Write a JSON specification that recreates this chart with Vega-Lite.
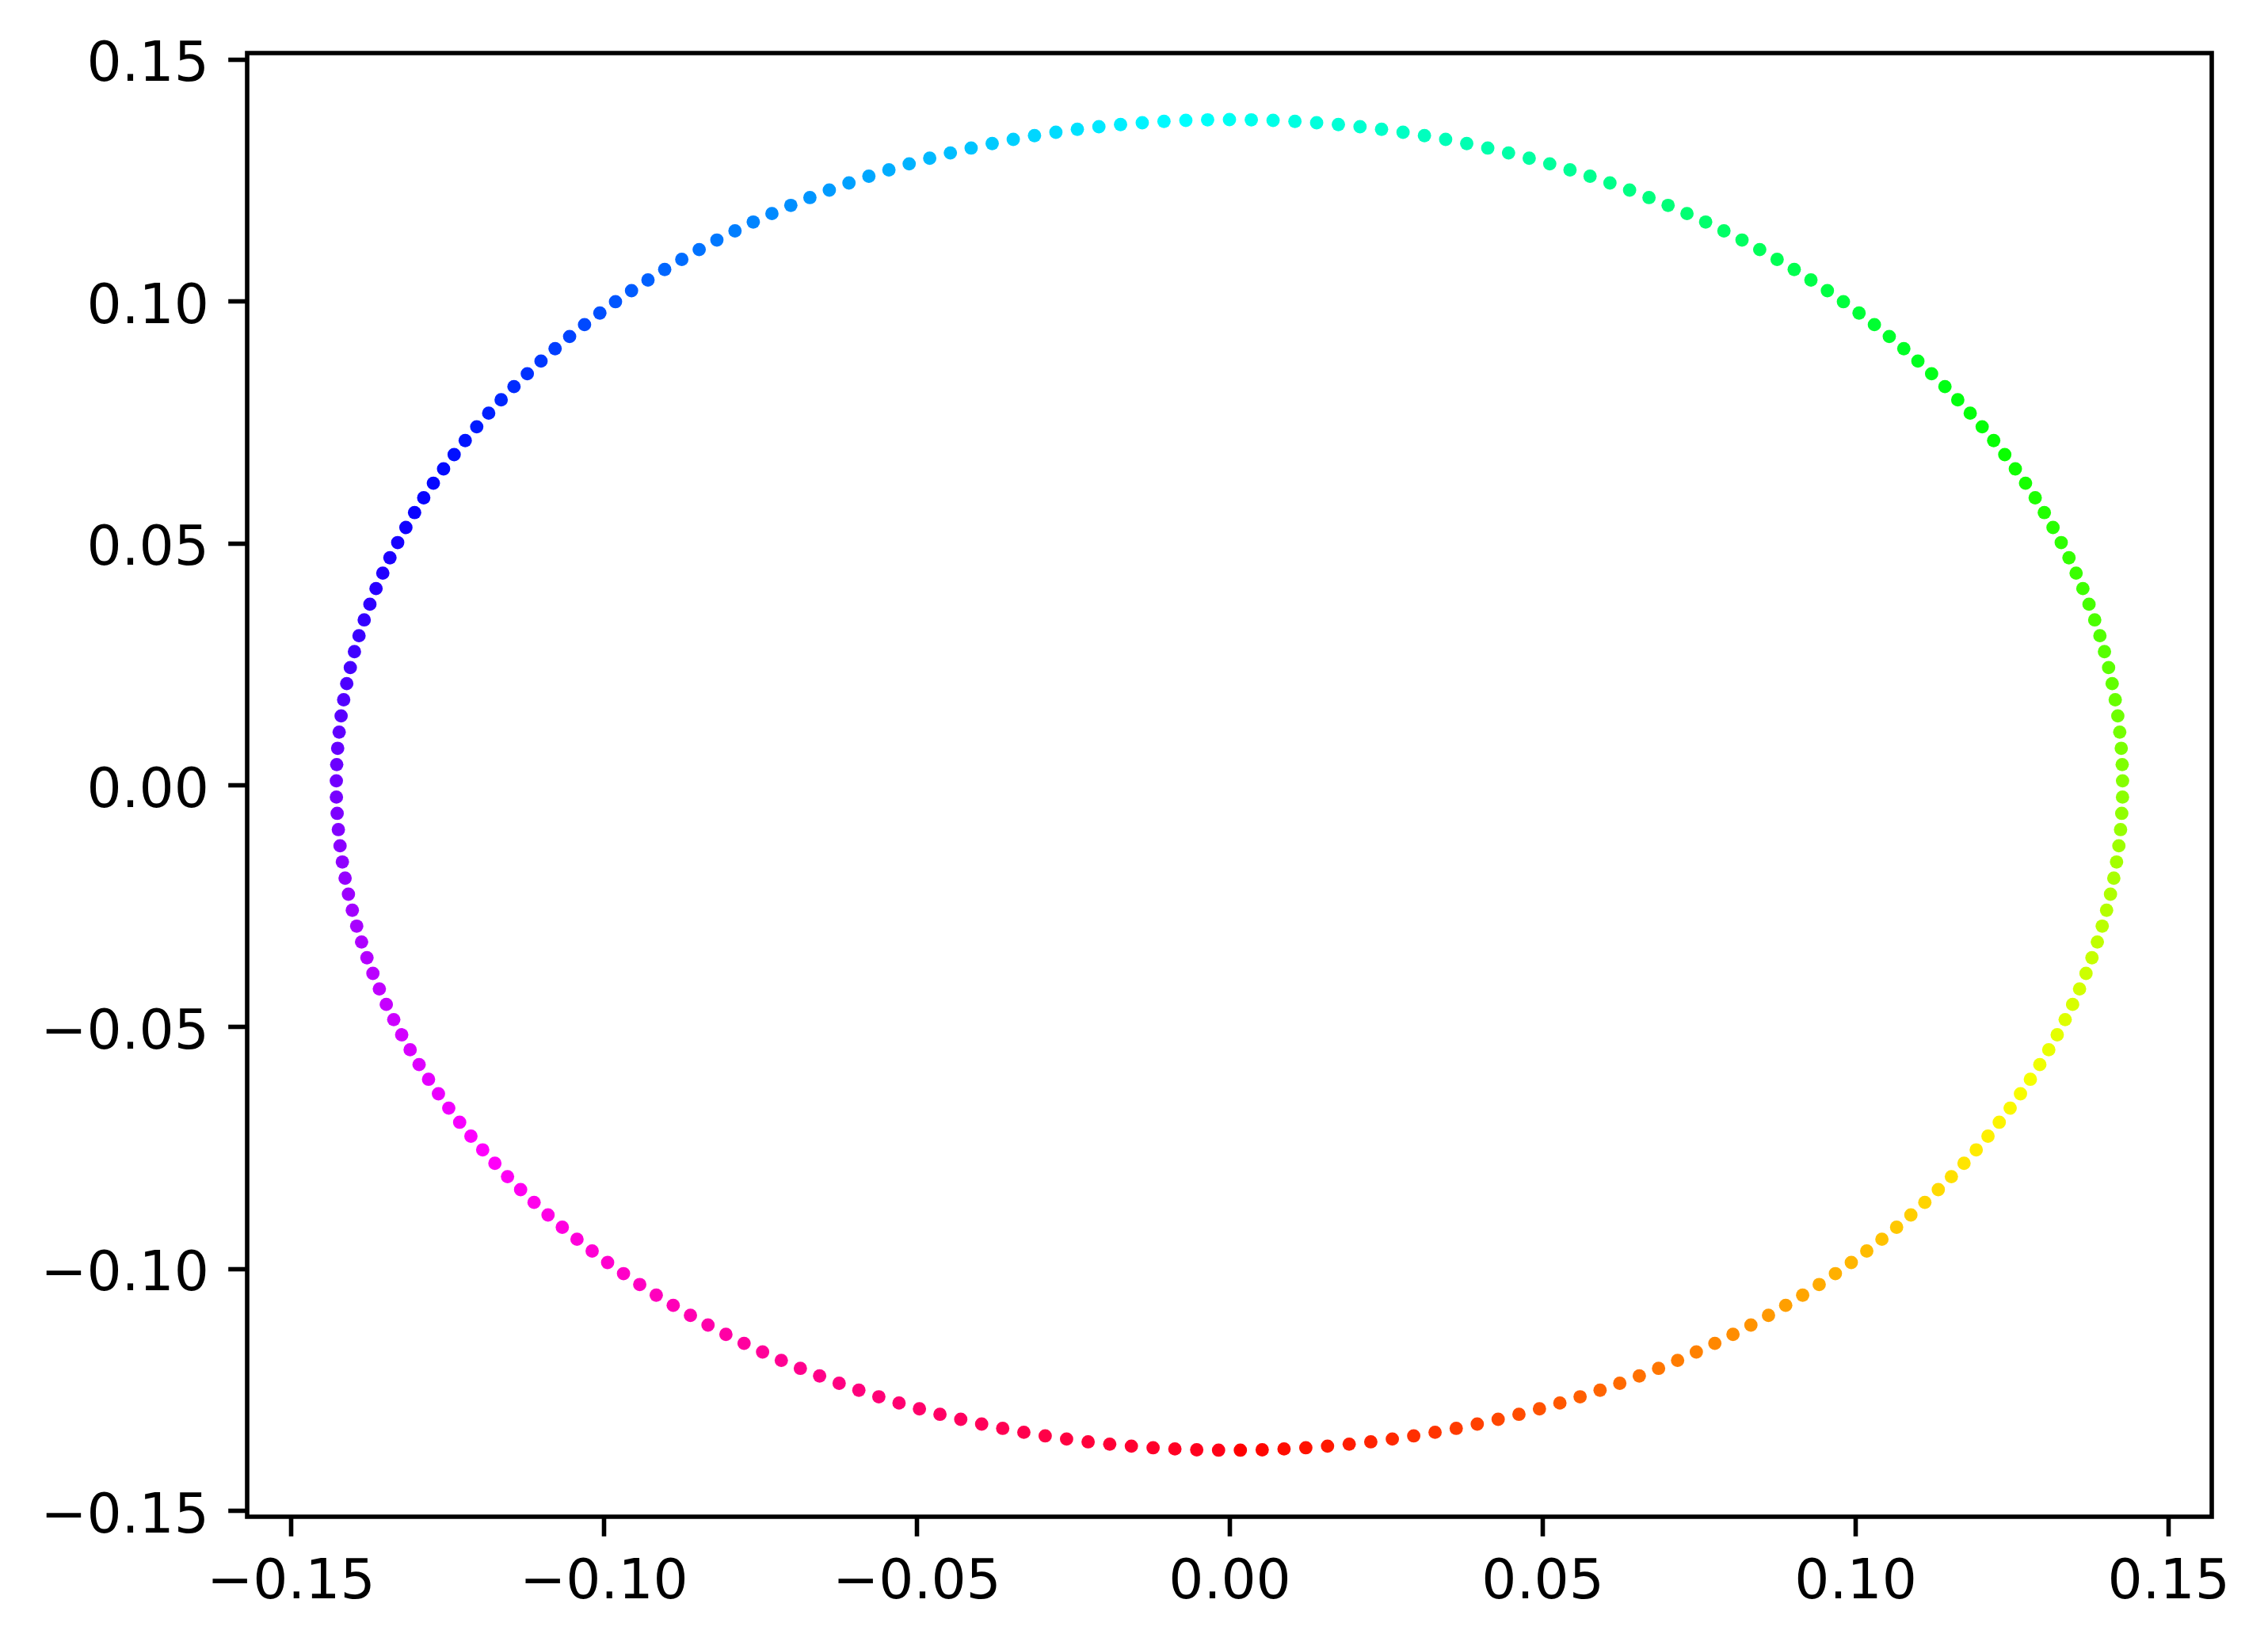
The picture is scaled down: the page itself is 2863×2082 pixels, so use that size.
{
"$schema": "https://vega.github.io/schema/vega-lite/v6.json",
"width": 2480,
"height": 1848,
"autosize": {"type": "none"},
"padding": {"left": 312, "top": 67, "right": 71, "bottom": 167},
"background": "white",
"config": {
  "view": {"stroke": "black", "strokeWidth": 5.6},
  "axis": {"domain": false, "grid": false, "ticks": true, "tickColor": "black", "tickWidth": 5.6, "tickSize": 24.3, "labelFont": "DejaVu Sans", "labelFontSize": 69.4, "labelColor": "black", "labelFlush": false, "labelOverlap": false, "labelLimit": 0, "title": null}
},
"data": {"values": [
{"i":0,"x":0.00174,"y":-0.13749},{"i":1,"x":0.00523,"y":-0.13741},{"i":2,"x":0.00872,"y":-0.13724},{"i":3,"x":0.01220,"y":-0.13700},{"i":4,"x":0.01567,"y":-0.13666},{"i":5,"x":0.01913,"y":-0.13625},{"i":6,"x":0.02258,"y":-0.13577},{"i":7,"x":0.02602,"y":-0.13519},{"i":8,"x":0.02944,"y":-0.13454},{"i":9,"x":0.03285,"y":-0.13380},
{"i":10,"x":0.03623,"y":-0.13299},{"i":11,"x":0.03959,"y":-0.13210},{"i":12,"x":0.04293,"y":-0.13112},{"i":13,"x":0.04625,"y":-0.13008},{"i":14,"x":0.04953,"y":-0.12895},{"i":15,"x":0.05279,"y":-0.12774},{"i":16,"x":0.05602,"y":-0.12646},{"i":17,"x":0.05921,"y":-0.12510},{"i":18,"x":0.06236,"y":-0.12367},{"i":19,"x":0.06548,"y":-0.12216},
{"i":20,"x":0.06856,"y":-0.12059},{"i":21,"x":0.07160,"y":-0.11894},{"i":22,"x":0.07459,"y":-0.11721},{"i":23,"x":0.07755,"y":-0.11542},{"i":24,"x":0.08045,"y":-0.11356},{"i":25,"x":0.08331,"y":-0.11163},{"i":26,"x":0.08612,"y":-0.10964},{"i":27,"x":0.08887,"y":-0.10757},{"i":28,"x":0.09158,"y":-0.10545},{"i":29,"x":0.09422,"y":-0.10326},
{"i":30,"x":0.09681,"y":-0.10101},{"i":31,"x":0.09935,"y":-0.09870},{"i":32,"x":0.10182,"y":-0.09633},{"i":33,"x":0.10424,"y":-0.09390},{"i":34,"x":0.10659,"y":-0.09142},{"i":35,"x":0.10887,"y":-0.08888},{"i":36,"x":0.11110,"y":-0.08629},{"i":37,"x":0.11325,"y":-0.08365},{"i":38,"x":0.11534,"y":-0.08096},{"i":39,"x":0.11736,"y":-0.07821},
{"i":40,"x":0.11931,"y":-0.07543},{"i":41,"x":0.12119,"y":-0.07259},{"i":42,"x":0.12299,"y":-0.06972},{"i":43,"x":0.12473,"y":-0.06680},{"i":44,"x":0.12638,"y":-0.06384},{"i":45,"x":0.12796,"y":-0.06084},{"i":46,"x":0.12947,"y":-0.05781},{"i":47,"x":0.13090,"y":-0.05474},{"i":48,"x":0.13225,"y":-0.05165},{"i":49,"x":0.13352,"y":-0.04851},
{"i":50,"x":0.13471,"y":-0.04536},{"i":51,"x":0.13582,"y":-0.04217},{"i":52,"x":0.13685,"y":-0.03896},{"i":53,"x":0.13780,"y":-0.03572},{"i":54,"x":0.13866,"y":-0.03247},{"i":55,"x":0.13944,"y":-0.02919},{"i":56,"x":0.14014,"y":-0.02590},{"i":57,"x":0.14076,"y":-0.02259},{"i":58,"x":0.14129,"y":-0.01927},{"i":59,"x":0.14173,"y":-0.01593},
{"i":60,"x":0.14210,"y":-0.01259},{"i":61,"x":0.14237,"y":-0.00924},{"i":62,"x":0.14256,"y":-0.00588},{"i":63,"x":0.14268,"y":-0.00252},{"i":64,"x":0.14269,"y":0.00084},{"i":65,"x":0.14263,"y":0.00420},{"i":66,"x":0.14248,"y":0.00756},{"i":67,"x":0.14224,"y":0.01091},{"i":68,"x":0.14193,"y":0.01426},{"i":69,"x":0.14152,"y":0.01760},
{"i":70,"x":0.14103,"y":0.02093},{"i":71,"x":0.14046,"y":0.02424},{"i":72,"x":0.13980,"y":0.02754},{"i":73,"x":0.13907,"y":0.03083},{"i":74,"x":0.13824,"y":0.03410},{"i":75,"x":0.13733,"y":0.03734},{"i":76,"x":0.13635,"y":0.04057},{"i":77,"x":0.13527,"y":0.04377},{"i":78,"x":0.13413,"y":0.04694},{"i":79,"x":0.13289,"y":0.05008},
{"i":80,"x":0.13158,"y":0.05320},{"i":81,"x":0.13019,"y":0.05628},{"i":82,"x":0.12873,"y":0.05933},{"i":83,"x":0.12719,"y":0.06235},{"i":84,"x":0.12556,"y":0.06532},{"i":85,"x":0.12387,"y":0.06826},{"i":86,"x":0.12210,"y":0.07116},{"i":87,"x":0.12026,"y":0.07401},{"i":88,"x":0.11835,"y":0.07683},{"i":89,"x":0.11636,"y":0.07959},
{"i":90,"x":0.11431,"y":0.08231},{"i":91,"x":0.11218,"y":0.08497},{"i":92,"x":0.10999,"y":0.08759},{"i":93,"x":0.10774,"y":0.09016},{"i":94,"x":0.10542,"y":0.09267},{"i":95,"x":0.10304,"y":0.09512},{"i":96,"x":0.10059,"y":0.09752},{"i":97,"x":0.09809,"y":0.09986},{"i":98,"x":0.09553,"y":0.10214},{"i":99,"x":0.09290,"y":0.10436},
{"i":100,"x":0.09023,"y":0.10652},{"i":101,"x":0.08750,"y":0.10861},{"i":102,"x":0.08472,"y":0.11064},{"i":103,"x":0.08189,"y":0.11261},{"i":104,"x":0.07900,"y":0.11450},{"i":105,"x":0.07608,"y":0.11633},{"i":106,"x":0.07310,"y":0.11808},{"i":107,"x":0.07008,"y":0.11977},{"i":108,"x":0.06703,"y":0.12139},{"i":109,"x":0.06393,"y":0.12293},
{"i":110,"x":0.06079,"y":0.12440},{"i":111,"x":0.05761,"y":0.12579},{"i":112,"x":0.05441,"y":0.12711},{"i":113,"x":0.05117,"y":0.12836},{"i":114,"x":0.04789,"y":0.12952},{"i":115,"x":0.04459,"y":0.13061},{"i":116,"x":0.04127,"y":0.13162},{"i":117,"x":0.03791,"y":0.13255},{"i":118,"x":0.03454,"y":0.13341},{"i":119,"x":0.03115,"y":0.13418},
{"i":120,"x":0.02773,"y":0.13488},{"i":121,"x":0.02430,"y":0.13549},{"i":122,"x":0.02086,"y":0.13602},{"i":123,"x":0.01740,"y":0.13647},{"i":124,"x":0.01393,"y":0.13684},{"i":125,"x":0.01046,"y":0.13713},{"i":126,"x":0.00697,"y":0.13733},{"i":127,"x":0.00349,"y":0.13745},{"i":128,"x":0.0,"y":0.13750},{"i":129,"x":-0.00349,"y":0.13745},
{"i":130,"x":-0.00697,"y":0.13733},{"i":131,"x":-0.01046,"y":0.13713},{"i":132,"x":-0.01393,"y":0.13684},{"i":133,"x":-0.01740,"y":0.13647},{"i":134,"x":-0.02086,"y":0.13602},{"i":135,"x":-0.02430,"y":0.13549},{"i":136,"x":-0.02773,"y":0.13488},{"i":137,"x":-0.03115,"y":0.13418},{"i":138,"x":-0.03454,"y":0.13341},{"i":139,"x":-0.03791,"y":0.13255},
{"i":140,"x":-0.04127,"y":0.13162},{"i":141,"x":-0.04459,"y":0.13061},{"i":142,"x":-0.04789,"y":0.12952},{"i":143,"x":-0.05117,"y":0.12836},{"i":144,"x":-0.05441,"y":0.12711},{"i":145,"x":-0.05761,"y":0.12579},{"i":146,"x":-0.06079,"y":0.12440},{"i":147,"x":-0.06393,"y":0.12293},{"i":148,"x":-0.06703,"y":0.12139},{"i":149,"x":-0.07008,"y":0.11977},
{"i":150,"x":-0.07310,"y":0.11808},{"i":151,"x":-0.07608,"y":0.11633},{"i":152,"x":-0.07900,"y":0.11450},{"i":153,"x":-0.08189,"y":0.11261},{"i":154,"x":-0.08472,"y":0.11064},{"i":155,"x":-0.08750,"y":0.10861},{"i":156,"x":-0.09023,"y":0.10652},{"i":157,"x":-0.09290,"y":0.10436},{"i":158,"x":-0.09553,"y":0.10214},{"i":159,"x":-0.09809,"y":0.09986},
{"i":160,"x":-0.10059,"y":0.09752},{"i":161,"x":-0.10304,"y":0.09512},{"i":162,"x":-0.10542,"y":0.09267},{"i":163,"x":-0.10774,"y":0.09016},{"i":164,"x":-0.10999,"y":0.08759},{"i":165,"x":-0.11218,"y":0.08497},{"i":166,"x":-0.11431,"y":0.08231},{"i":167,"x":-0.11636,"y":0.07959},{"i":168,"x":-0.11835,"y":0.07683},{"i":169,"x":-0.12026,"y":0.07401},
{"i":170,"x":-0.12210,"y":0.07116},{"i":171,"x":-0.12387,"y":0.06826},{"i":172,"x":-0.12556,"y":0.06532},{"i":173,"x":-0.12719,"y":0.06235},{"i":174,"x":-0.12873,"y":0.05933},{"i":175,"x":-0.13019,"y":0.05628},{"i":176,"x":-0.13158,"y":0.05320},{"i":177,"x":-0.13289,"y":0.05008},{"i":178,"x":-0.13413,"y":0.04694},{"i":179,"x":-0.13527,"y":0.04377},
{"i":180,"x":-0.13635,"y":0.04057},{"i":181,"x":-0.13733,"y":0.03734},{"i":182,"x":-0.13824,"y":0.03410},{"i":183,"x":-0.13907,"y":0.03083},{"i":184,"x":-0.13980,"y":0.02754},{"i":185,"x":-0.14046,"y":0.02424},{"i":186,"x":-0.14103,"y":0.02093},{"i":187,"x":-0.14152,"y":0.01760},{"i":188,"x":-0.14193,"y":0.01426},{"i":189,"x":-0.14224,"y":0.01091},
{"i":190,"x":-0.14248,"y":0.00756},{"i":191,"x":-0.14263,"y":0.00420},{"i":192,"x":-0.14269,"y":0.00084},{"i":193,"x":-0.14268,"y":-0.00252},{"i":194,"x":-0.14256,"y":-0.00588},{"i":195,"x":-0.14237,"y":-0.00924},{"i":196,"x":-0.14210,"y":-0.01259},{"i":197,"x":-0.14173,"y":-0.01593},{"i":198,"x":-0.14129,"y":-0.01927},{"i":199,"x":-0.14076,"y":-0.02259},
{"i":200,"x":-0.14014,"y":-0.02590},{"i":201,"x":-0.13944,"y":-0.02919},{"i":202,"x":-0.13866,"y":-0.03247},{"i":203,"x":-0.13780,"y":-0.03572},{"i":204,"x":-0.13685,"y":-0.03896},{"i":205,"x":-0.13582,"y":-0.04217},{"i":206,"x":-0.13471,"y":-0.04536},{"i":207,"x":-0.13352,"y":-0.04851},{"i":208,"x":-0.13225,"y":-0.05165},{"i":209,"x":-0.13090,"y":-0.05474},
{"i":210,"x":-0.12947,"y":-0.05781},{"i":211,"x":-0.12796,"y":-0.06084},{"i":212,"x":-0.12638,"y":-0.06384},{"i":213,"x":-0.12473,"y":-0.06680},{"i":214,"x":-0.12299,"y":-0.06972},{"i":215,"x":-0.12119,"y":-0.07259},{"i":216,"x":-0.11931,"y":-0.07543},{"i":217,"x":-0.11736,"y":-0.07821},{"i":218,"x":-0.11534,"y":-0.08096},{"i":219,"x":-0.11325,"y":-0.08365},
{"i":220,"x":-0.11110,"y":-0.08629},{"i":221,"x":-0.10887,"y":-0.08888},{"i":222,"x":-0.10659,"y":-0.09142},{"i":223,"x":-0.10424,"y":-0.09390},{"i":224,"x":-0.10182,"y":-0.09633},{"i":225,"x":-0.09935,"y":-0.09870},{"i":226,"x":-0.09681,"y":-0.10101},{"i":227,"x":-0.09422,"y":-0.10326},{"i":228,"x":-0.09158,"y":-0.10545},{"i":229,"x":-0.08887,"y":-0.10757},
{"i":230,"x":-0.08612,"y":-0.10964},{"i":231,"x":-0.08331,"y":-0.11163},{"i":232,"x":-0.08045,"y":-0.11356},{"i":233,"x":-0.07755,"y":-0.11542},{"i":234,"x":-0.07459,"y":-0.11721},{"i":235,"x":-0.07160,"y":-0.11894},{"i":236,"x":-0.06856,"y":-0.12059},{"i":237,"x":-0.06548,"y":-0.12216},{"i":238,"x":-0.06236,"y":-0.12367},{"i":239,"x":-0.05921,"y":-0.12510},
{"i":240,"x":-0.05602,"y":-0.12646},{"i":241,"x":-0.05279,"y":-0.12774},{"i":242,"x":-0.04953,"y":-0.12895},{"i":243,"x":-0.04625,"y":-0.13008},{"i":244,"x":-0.04293,"y":-0.13112},{"i":245,"x":-0.03959,"y":-0.13210},{"i":246,"x":-0.03623,"y":-0.13299},{"i":247,"x":-0.03285,"y":-0.13380},{"i":248,"x":-0.02944,"y":-0.13454},{"i":249,"x":-0.02602,"y":-0.13519},
{"i":250,"x":-0.02258,"y":-0.13577},{"i":251,"x":-0.01913,"y":-0.13625},{"i":252,"x":-0.01567,"y":-0.13666},{"i":253,"x":-0.01220,"y":-0.13700},{"i":254,"x":-0.00872,"y":-0.13724},{"i":255,"x":-0.00523,"y":-0.13741},{"i":256,"x":-0.00174,"y":-0.13749}
]},
"mark": {"type": "circle", "size": 284, "opacity": 1},
"encoding": {
  "x": {"field": "x", "type": "quantitative",
        "scale": {"domain": [-0.15694, 0.15694], "nice": false, "zero": false},
        "axis": {"values": [-0.15, -0.1, -0.05, 0, 0.05, 0.1, 0.15], "format": ".2f", "labelPadding": 23}},
  "y": {"field": "y", "type": "quantitative",
        "scale": {"domain": [-0.15125, 0.15125], "nice": false, "zero": false},
        "axis": {"values": [-0.15, -0.1, -0.05, 0, 0.05, 0.1, 0.15], "format": ".2f", "labelPadding": 24.3, "labelOffset": 6}},
  "color": {"field": "i", "type": "quantitative", "legend": null,
        "scale": {"domain": [0, 40.635, 44.698, 85.333, 89.397, 130.032, 170.667, 174.730, 215.365, 219.429, 256],
                  "range": ["#ff0000", "#ffef00", "#f7ff00", "#08ff00", "#00ff10", "#00ffff", "#0010ff", "#0800ff", "#ff00ff", "#ff00ef", "#ff0018"],
                  "interpolate": "rgb"}}
}
}
